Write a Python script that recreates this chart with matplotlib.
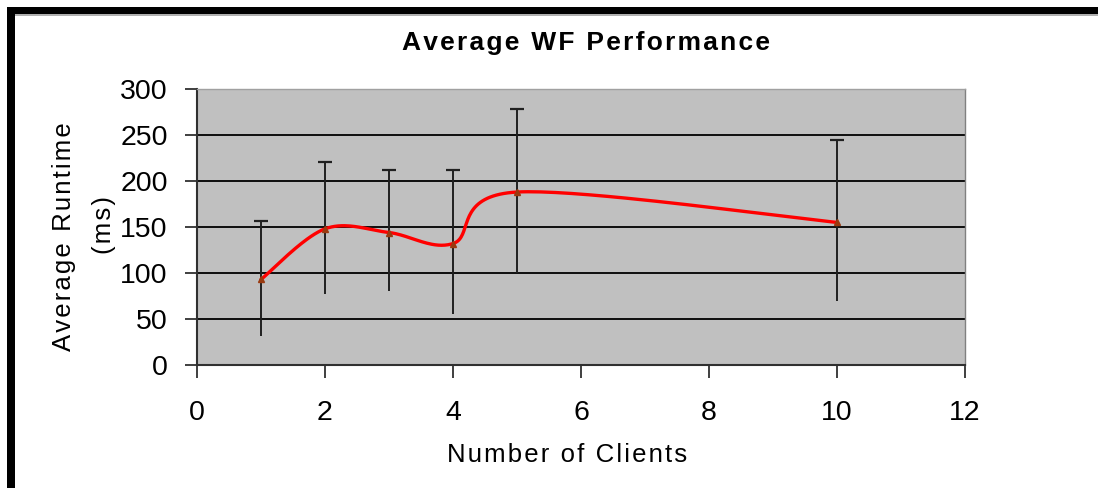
import numpy as np
import matplotlib.pyplot as plt
from matplotlib.patches import Rectangle

# data
clients = [1, 2, 3, 4, 5, 10]
runtime = [93, 148, 144, 132, 188, 155]
err_up = [64, 73, 68, 80, 90, 90]
err_down = [62, 71, 64, 77, 88, 85]

title = "Average WF Performance"
x_label = "Number of Clients"
y_label_1 = "Average Runtime"
y_label_2 = "(ms)"


def smooth_line(xs, ys, n=40):
    # excel style smoothed line (catmull-rom as bezier segments)
    pts = np.column_stack([xs, ys]).astype(float)
    ext = np.vstack([pts[0], pts, pts[-1]])
    out = []
    t = np.linspace(0, 1, n)[:, None]
    for i in range(len(pts) - 1):
        p0, p3 = ext[i + 1], ext[i + 2]
        b1 = p0 + (ext[i + 2] - ext[i]) / 6
        b2 = p3 - (ext[i + 3] - ext[i + 1]) / 6
        seg = (1 - t) ** 3 * p0 + 3 * (1 - t) ** 2 * t * b1 + 3 * (1 - t) * t ** 2 * b2 + t ** 3 * p3
        out.append(seg)
    out = np.vstack(out)
    return out[:, 0], out[:, 1]


def spaced(s):
    # the old excel fonts had wide letter spacing
    return "\u200a".join(s)


plt.rcParams['font.family'] = ['Liberation Sans', 'DejaVu Sans']

fig = plt.figure(figsize=(10.98, 4.88), dpi=100)
W, H = 1098, 488

ax = fig.add_axes([197 / W, 1 - 365 / H, 768 / W, 276 / H])
ax.set_facecolor('#c0c0c0')

ax.set_xlim(0, 12)
ax.set_ylim(0, 300)
ax.set_xticks(np.arange(0, 13, 2))
ax.set_yticks(np.arange(0, 301, 50))
ax.yaxis.grid(True, color='black', linewidth=1.3)
ax.set_axisbelow(True)

ax.tick_params(axis='both', labelsize=20.5, length=9, width=1.3, color='#303030')
ax.tick_params(axis='x', pad=16)
ax.tick_params(axis='y', pad=12)

for s in ['left', 'bottom']:
    ax.spines[s].set_color('#303030')
    ax.spines[s].set_linewidth(1.5)
ax.spines['top'].set_color('#a0a0a0')
ax.spines['right'].set_color('#808080')
ax.spines['top'].set_linewidth(1.0)
ax.spines['right'].set_linewidth(1.0)

# error bars, cap on top only
x = np.array(clients, dtype=float)
y = np.array(runtime, dtype=float)
lo = y - np.array(err_down)
hi = y + np.array(err_up)
ax.vlines(x, lo, hi, color='#202020', linewidth=1.4, zorder=3)
ax.plot(x, hi, linestyle='none', marker='_', markersize=10, markeredgewidth=1.6,
        color='#202020', zorder=3)

sx, sy = smooth_line(clients, runtime)
ax.plot(sx, sy, color='#ff0000', linewidth=2.4, zorder=4, solid_capstyle='round')
ax.plot(x, y, linestyle='none', marker='^', markersize=5, color='#9a3a10', zorder=5)

fig.text(586 / W, 1 - 43 / H, spaced(title), ha='center', va='center', fontsize=19,
         fontweight='bold')
fig.text(567 / W, 1 - 455 / H, spaced(x_label), ha='center', va='center', fontsize=18.5)
fig.text(64 / W, 1 - 237 / H, spaced(y_label_1), ha='center', va='center', fontsize=18.5,
         rotation=90)
fig.text(104 / W, 1 - 225 / H, spaced(y_label_2), ha='center', va='center', fontsize=18.5,
         rotation=90)

# black frame of the original picture
fig.patches.append(Rectangle((7 / W, 0), 8 / W, 1 - 7 / H, transform=fig.transFigure,
                             facecolor='black', edgecolor='none'))
fig.patches.append(Rectangle((7 / W, 1 - 14 / H), 1 - 7 / W, 7 / H, transform=fig.transFigure,
                             facecolor='black', edgecolor='none'))
fig.patches.append(Rectangle((15 / W, 1 - 15.5 / H), 1 - 15 / W, 1.5 / H, transform=fig.transFigure,
                             facecolor='#b0b0b0', edgecolor='none'))

fig.savefig('out.png', dpi=100)
